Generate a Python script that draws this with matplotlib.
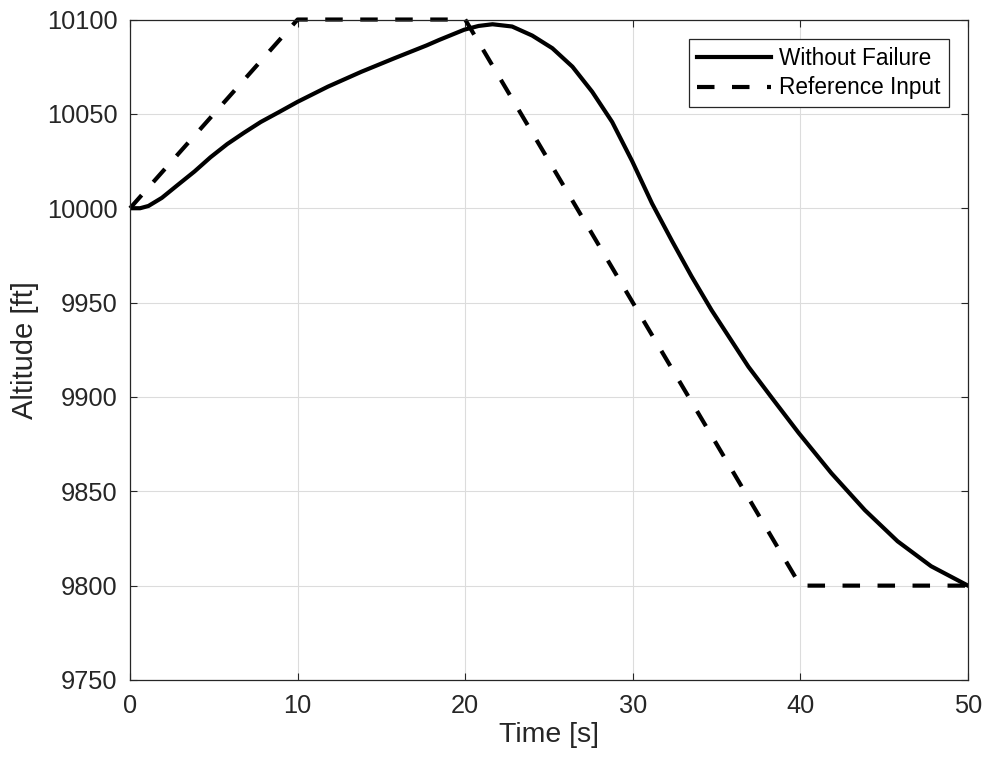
import numpy as np
import matplotlib
matplotlib.use("Agg")
import matplotlib.pyplot as plt

# Data
t_fail = [0, 0.6, 1.1, 1.9, 2.8, 3.85, 4.8, 5.8, 6.8, 7.8, 8.9, 10, 11.8,
          13.8, 15.75, 17.7, 18.45, 19.94, 20.8, 21.63, 22.8, 24.0, 25.2,
          26.4, 27.58, 28.77, 29.96, 31.15, 32.35, 33.5, 34.7, 35.8, 36.9,
          38.3, 39.9, 41.85, 43.85, 45.8, 47.8, 50]
alt_fail = [10000, 10000, 10001.2, 10005.5, 10012, 10019.5, 10027, 10034,
            10040, 10045.7, 10051, 10056.4, 10064.4, 10072.3, 10079.4,
            10086.3, 10089.2, 10094.6, 10096.6, 10097.5, 10096.3, 10091.5,
            10084.8, 10075, 10061.7, 10045.7, 10025, 10002.5, 9982.5, 9964,
            9946, 9931, 9916, 9899.5, 9880.9, 9859.6, 9840, 9823.5, 9810.3, 9800]
t_ref = [0, 10, 20, 40, 50]
alt_ref = [10000, 10100, 10100, 9800, 9800]

xticks = [0, 10, 20, 30, 40, 50]
yticks = [9750, 9800, 9850, 9900, 9950, 10000, 10050, 10100]

plt.rcParams["font.family"] = ["Liberation Sans", "DejaVu Sans"]
dark = "#262626"

fig = plt.figure(figsize=(9.85, 7.66), dpi=100)
ax = fig.add_axes([0.132, 0.1123, 0.8507, 0.8622])

ax.plot(t_fail, alt_fail, "-", color="black", lw=3, label="Without Failure",
        solid_joinstyle="round")
ax.plot(t_ref, alt_ref, color="black", lw=3, dashes=(4.2, 4.2),
        label="Reference Input", clip_on=False)

ax.set_xlim(0, 50)
ax.set_ylim(9750, 10100)
ax.set_xticks(xticks)
ax.set_yticks(yticks)
ax.grid(True, color="#dcdcdc", lw=0.8)
ax.set_axisbelow(True)
ax.tick_params(direction="in", top=True, right=True, length=5,
               width=0.8, colors=dark, labelsize=18.3)
ax.tick_params(axis="y", pad=9)
ax.tick_params(axis="x", pad=10)
for s in ax.spines.values():
    s.set_color(dark)
    s.set_linewidth(0.9)

ax.set_xlabel("Time [s]", fontsize=20.5, color=dark, labelpad=3)
ax.set_ylabel("Altitude [ft]", fontsize=21, color=dark, labelpad=6)

leg = ax.legend(loc="upper right", fontsize=16.3, fancybox=False,
                framealpha=1, edgecolor=dark, handlelength=3.3,
                borderaxespad=0.85, handletextpad=0.35, borderpad=0.35,
                labelspacing=0.3)
leg.get_frame().set_linewidth(0.9)

fig.savefig("out.png", dpi=100)
